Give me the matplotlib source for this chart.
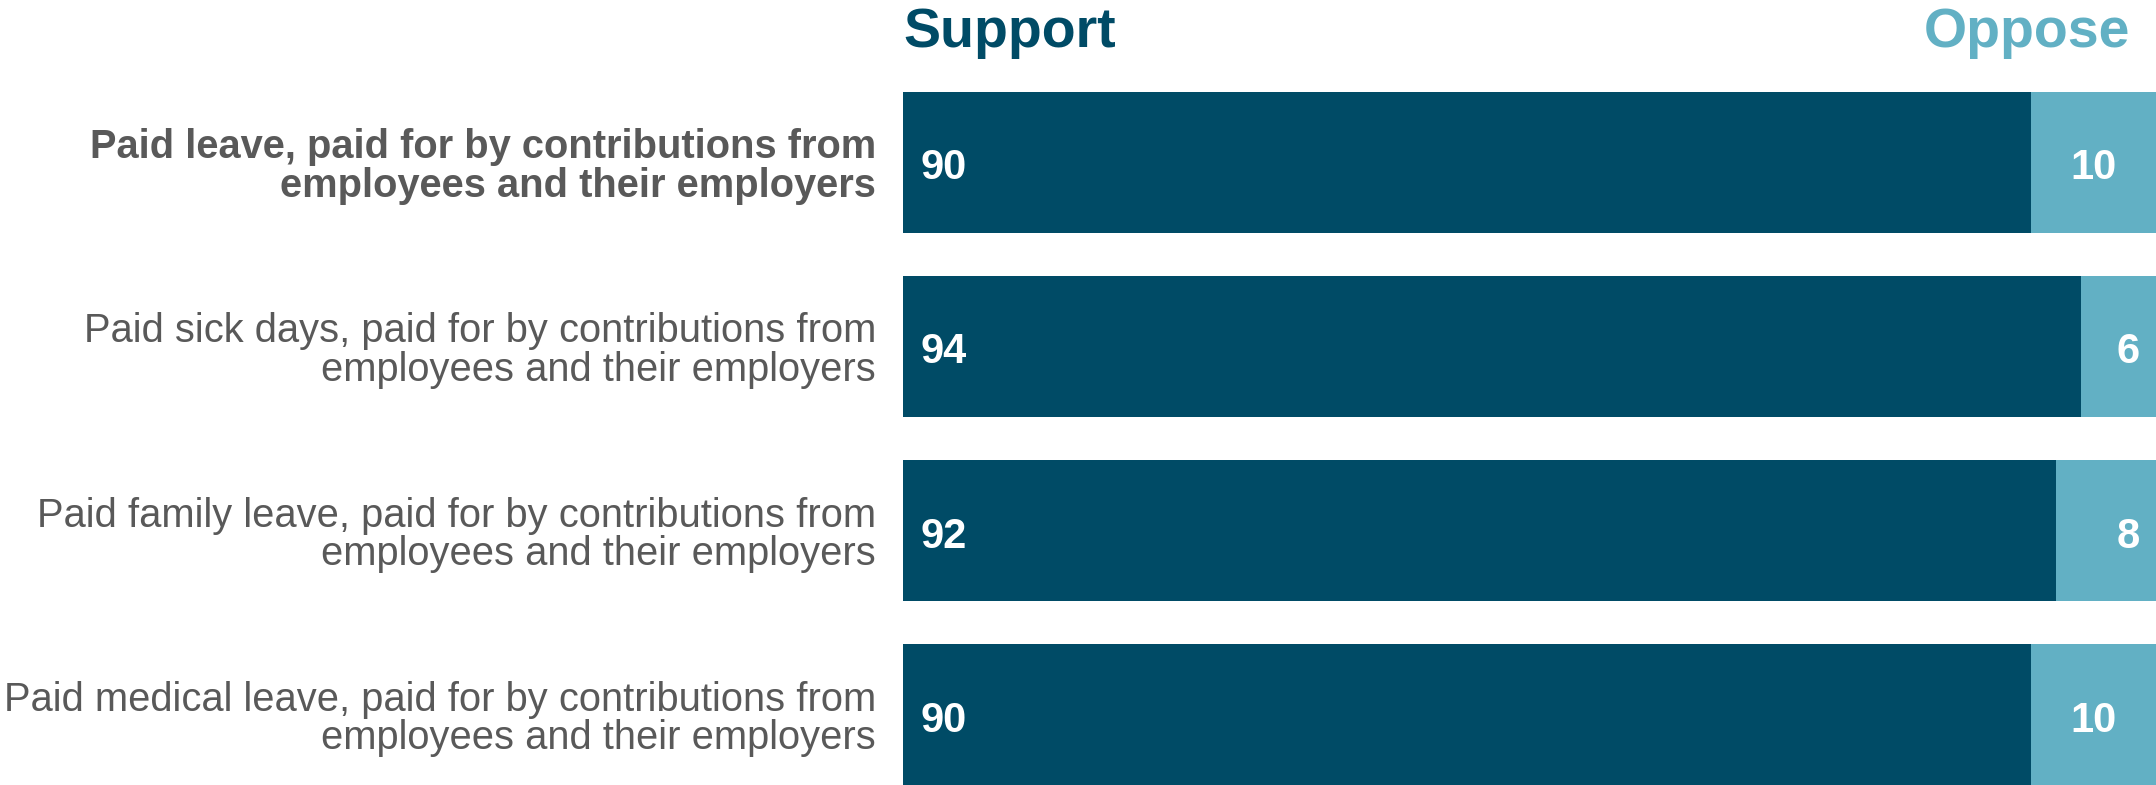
import numpy as np
import matplotlib.pyplot as plt

# data
categories = [
    'Paid leave, paid for by contributions from\nemployees and their employers',
    'Paid sick days, paid for by contributions from\nemployees and their employers',
    'Paid family leave, paid for by contributions from\nemployees and their employers',
    'Paid medical leave, paid for by contributions from\nemployees and their employers',
]
support = [90, 94, 92, 90]
oppose = [10, 6, 8, 10]

dark = '#004B66'
light = '#62B0C4'
grey = '#595959'

plt.rcParams['font.family'] = ['Liberation Sans', 'DejaVu Sans']

fig = plt.figure(figsize=(21.56, 7.85), dpi=100)
ax = fig.add_axes([903 / 2156, 0, 1 - 903 / 2156, 1 - 92 / 785])

h = 0.765
y = np.arange(len(categories))
ax.barh(y, support, height=h, color=dark)
ax.barh(y, oppose, left=support, height=h, color=light)

ax.set_xlim(0, 100)
ax.set_ylim(len(categories) - 1 + h / 2, -h / 2)

# value labels
for i in range(len(categories)):
    ax.annotate(str(support[i]), (0, i), xytext=(17, -6), textcoords='offset pixels',
                ha='left', va='center', color='white', fontsize=30, fontweight='bold')
    if oppose[i] >= 10:
        ax.annotate(str(oppose[i]), (support[i] + oppose[i] / 2, i), xytext=(0, -6),
                    textcoords='offset pixels', ha='center', va='center',
                    color='white', fontsize=30, fontweight='bold')
    else:
        ax.annotate(str(oppose[i]), (100, i), xytext=(-16, -6), textcoords='offset pixels',
                    ha='right', va='center', color='white', fontsize=30, fontweight='bold')

# category labels
ax.set_yticks(y)
ax.set_yticklabels(categories, fontsize=28.7, color=grey, linespacing=1.02)
ax.get_yticklabels()[0].set_fontweight('bold')
ax.tick_params(axis='y', length=0, pad=19.4)
ax.set_xticks([])
for s in ax.spines.values():
    s.set_visible(False)

# headers
fig.text(903 / 2156, 1 - 47 / 785, 'Support', color=dark, fontsize=40,
         fontweight='bold', ha='left', va='baseline')
fig.text(2130 / 2156, 1 - 47 / 785, 'Oppose', color=light, fontsize=40,
         fontweight='bold', ha='right', va='baseline')

fig.savefig('out.png', dpi=100)
